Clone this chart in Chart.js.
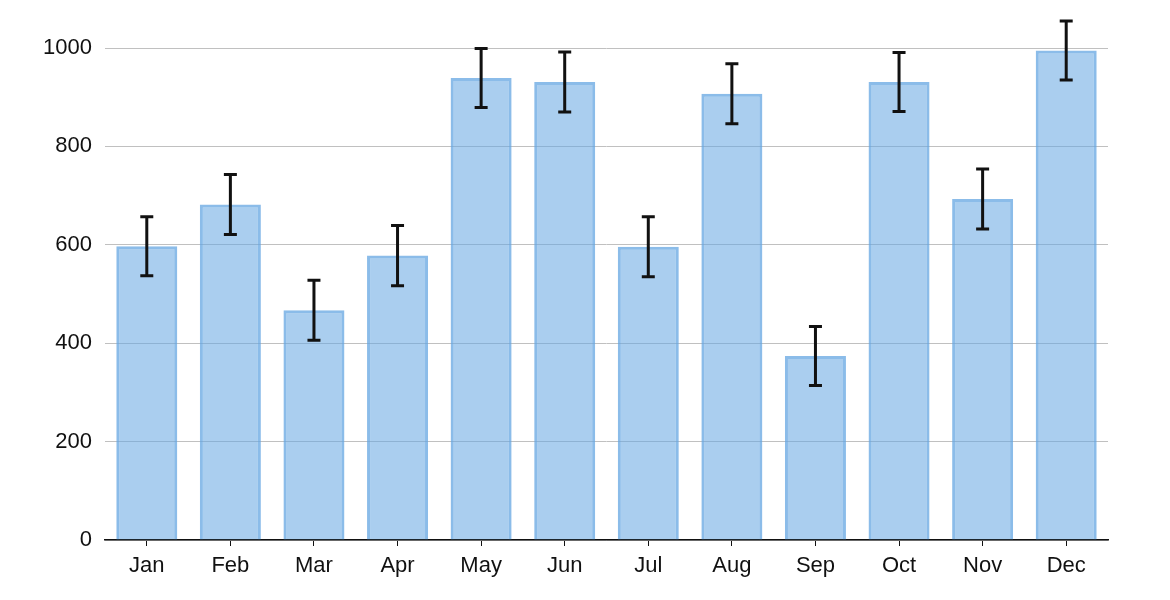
<!DOCTYPE html>
<html>
<head>
<meta charset="utf-8">
<script src="https://cdn.jsdelivr.net/npm/chart.js@4"></script>
<style>
  html, body { margin: 0; padding: 0; background: #fff; }
  #wrapper { width: 1170px; height: 600px; }
</style>
</head>
<body>
<div id="wrapper"><canvas id="barChart"></canvas></div>
<script>
// datos de la grafica
var meses = ['Jan', 'Feb', 'Mar', 'Apr', 'May', 'Jun', 'Jul', 'Aug', 'Sep', 'Oct', 'Nov', 'Dec'];
var valores = [597, 682, 467, 578, 939, 931, 596, 907, 374, 931, 693, 995];
var errores = [60, 61, 61, 61, 60, 61, 61, 61, 60, 60, 61, 60];
var ticksY = [0, 200, 400, 600, 800, 1000];

// barras de error dibujadas con las escalas del grafico
var errorBars = {
    id: 'errorBars',
    afterDatasetsDraw(chart) {
        var ctx = chart.ctx;
        var x = chart.scales.x;
        var y = chart.scales.y;
        ctx.save();
        ctx.strokeStyle = '#111';
        ctx.lineWidth = 3;
        valores.forEach((v, i) => {
            var px = x.getPixelForValue(i);
            var top = y.getPixelForValue(v + errores[i]);
            var bot = y.getPixelForValue(v - errores[i]);
            ctx.beginPath();
            ctx.moveTo(px, top);
            ctx.lineTo(px, bot);
            ctx.moveTo(px - 6.5, top);
            ctx.lineTo(px + 6.5, top);
            ctx.moveTo(px - 6.5, bot);
            ctx.lineTo(px + 6.5, bot);
            ctx.stroke();
        });
        ctx.restore();
    }
};

Chart.defaults.font.family = '"Liberation Sans", Arial, sans-serif';
Chart.defaults.font.size = 22;
Chart.defaults.color = '#111';

const ctx = document.getElementById('barChart');
const myChart = new Chart(ctx, {
    type: 'bar',
    data: {
        labels: meses,
        datasets: [{
            data: valores,
            backgroundColor: 'rgba(100,165,225,0.55)',
            borderColor: 'rgba(100,165,225,0.75)',
            borderWidth: 3,
            barPercentage: 0.73,
            categoryPercentage: 1
        }]
    },
    options: {
        responsive: true,
        maintainAspectRatio: false,
        animation: false,
        layout: { padding: { top: 48, right: 62, left: 0, bottom: 0 } },
        plugins: { legend: { display: false }, tooltip: { enabled: false } },
        scales: {
            x: {
                grid: { display: true, offset: false, drawOnChartArea: false, drawTicks: true, tickLength: 6, color: '#111' },
                border: { display: true, color: '#111', width: 1.5 },
                ticks: { padding: 7 },
                afterFit(s) { s.height = 60; }
            },
            y: {
                min: 0,
                max: 1000,
                afterBuildTicks(s) { s.ticks = ticksY.map(v => ({ value: v })); },
                grid: { color: '#c0c0c0', lineWidth: 1, drawTicks: false },
                border: { display: false },
                ticks: { padding: 13, callback: v => String(v) },
                afterFit(s) { s.width = 105; }
            }
        }
    },
    plugins: [errorBars]
});
</script>
</body>
</html>
